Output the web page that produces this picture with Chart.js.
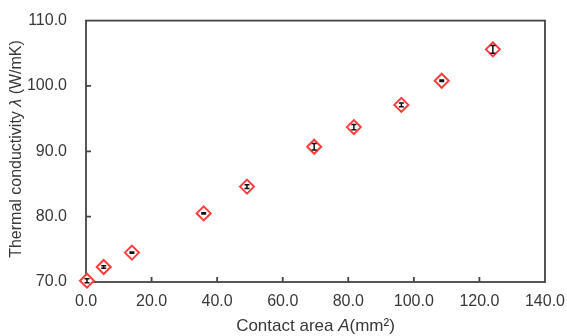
<!DOCTYPE html>
<html>
<head>
<meta charset="utf-8">
<script src="https://cdn.jsdelivr.net/npm/chart.js@4"></script>
<style>
  html, body { margin: 0; padding: 0; background: #fff; }
  #wrap { width: 567px; height: 336px; }
</style>
</head>
<body>
<div id="wrap"><canvas id="chart" width="567" height="336"></canvas></div>
<script>
// Data
const contactArea = [0.3, 5.4, 14.0, 35.9, 49.1, 69.6, 81.7, 96.2, 108.5, 124.1];
const conductivity = [70.2, 72.3, 74.5, 80.5, 84.6, 90.7, 93.7, 97.1, 100.8, 105.6];
const errorBars = [0.3, 0.2, 0.1, 0.1, 0.3, 0.5, 0.4, 0.3, 0.1, 0.6];
const xTicks = [0, 20, 40, 60, 80, 100, 120, 140];
const yTicks = [70, 80, 90, 100, 110];

const textColor = '#383838';
const axisColor = '#444444';
const fontFamily = '"Liberation Sans", Arial, sans-serif';

// Frame box with inward tick marks
const framePlugin = {
    id: 'frame',
    beforeDatasetsDraw(chart) {
        const { ctx, chartArea: a, scales } = chart;
        ctx.save();
        ctx.strokeStyle = axisColor;
        ctx.lineWidth = 1.8;
        ctx.strokeRect(a.left, a.top, a.right - a.left, a.bottom - a.top);
        ctx.beginPath();
        xTicks.slice(1, -1).forEach(v => {
            const px = scales.x.getPixelForValue(v);
            ctx.moveTo(px, a.bottom);
            ctx.lineTo(px, a.bottom - 5);
        });
        yTicks.slice(1, -1).forEach(v => {
            const py = scales.y.getPixelForValue(v);
            ctx.moveTo(a.left, py);
            ctx.lineTo(a.left + 5, py);
        });
        ctx.stroke();
        ctx.restore();
    }
};

// Vertical error bars on top of the markers
const errorBarPlugin = {
    id: 'errorBars',
    afterDatasetsDraw(chart) {
        const { ctx, scales } = chart;
        ctx.save();
        ctx.strokeStyle = '#111';
        ctx.lineWidth = 1.5;
        contactArea.forEach((x, i) => {
            const px = scales.x.getPixelForValue(x);
            const top = scales.y.getPixelForValue(conductivity[i] + errorBars[i]);
            const bot = scales.y.getPixelForValue(conductivity[i] - errorBars[i]);
            ctx.beginPath();
            ctx.moveTo(px, top);
            ctx.lineTo(px, bot);
            ctx.moveTo(px - 2.5, top);
            ctx.lineTo(px + 2.5, top);
            ctx.moveTo(px - 2.5, bot);
            ctx.lineTo(px + 2.5, bot);
            ctx.stroke();
        });
        ctx.restore();
    }
};

// Axis titles with italic symbols
function drawRich(ctx, parts, x, y) {
    let total = 0;
    parts.forEach(p => {
        ctx.font = p.font;
        total += ctx.measureText(p.text).width;
    });
    let cx = x - total / 2;
    parts.forEach(p => {
        ctx.font = p.font;
        ctx.fillText(p.text, cx, y);
        cx += ctx.measureText(p.text).width;
    });
}

const titlePlugin = {
    id: 'axisTitles',
    afterDraw(chart) {
        const { ctx, chartArea: a } = chart;
        ctx.save();
        ctx.fillStyle = textColor;
        ctx.textBaseline = 'middle';
        ctx.textAlign = 'left';
        drawRich(ctx, [
            { text: 'Contact area ', font: '17px ' + fontFamily },
            { text: 'A', font: 'italic 17px ' + fontFamily },
            { text: '(mm²)', font: '17px ' + fontFamily }
        ], (a.left + a.right) / 2, 326);
        ctx.translate(17, 149);
        ctx.rotate(-Math.PI / 2);
        drawRich(ctx, [
            { text: 'Thermal conductivity ', font: '16px ' + fontFamily },
            { text: 'λ', font: 'italic 16px ' + fontFamily },
            { text: ' (W/mK)', font: '16px ' + fontFamily }
        ], 0, 0);
        ctx.restore();
    }
};

new Chart(document.getElementById('chart'), {
    type: 'scatter',
    data: {
        datasets: [{
            data: contactArea.map((x, i) => ({ x: x, y: conductivity[i] })),
            pointStyle: 'rectRot',
            pointRadius: 7,
            pointHoverRadius: 7,
            pointBorderWidth: 2,
            pointBorderColor: '#ff3c3c',
            pointBackgroundColor: '#ffffff',
            clip: false
        }]
    },
    options: {
        responsive: false,
        animation: false,
        events: [],
        layout: { padding: { top: 19, right: 21, left: 0, bottom: 0 } },
        plugins: {
            legend: { display: false },
            tooltip: { enabled: false }
        },
        scales: {
            x: {
                type: 'linear',
                min: 0,
                max: 140,
                afterBuildTicks: s => { s.ticks = xTicks.map(v => ({ value: v })); },
                afterFit: s => { s.height = 54; },
                grid: { display: false },
                border: { display: false },
                ticks: {
                    padding: 2,
                    color: textColor,
                    font: { family: fontFamily, size: 16 },
                    callback: v => v.toFixed(1)
                }
            },
            y: {
                type: 'linear',
                min: 70,
                max: 110,
                afterBuildTicks: s => { s.ticks = yTicks.map(v => ({ value: v })); },
                afterFit: s => { s.width = 86; },
                grid: { display: false },
                border: { display: false },
                ticks: {
                    padding: 11,
                    color: textColor,
                    font: { family: fontFamily, size: 16 },
                    callback: v => v.toFixed(1)
                }
            }
        }
    },
    plugins: [framePlugin, errorBarPlugin, titlePlugin]
});
</script>
</body>
</html>
